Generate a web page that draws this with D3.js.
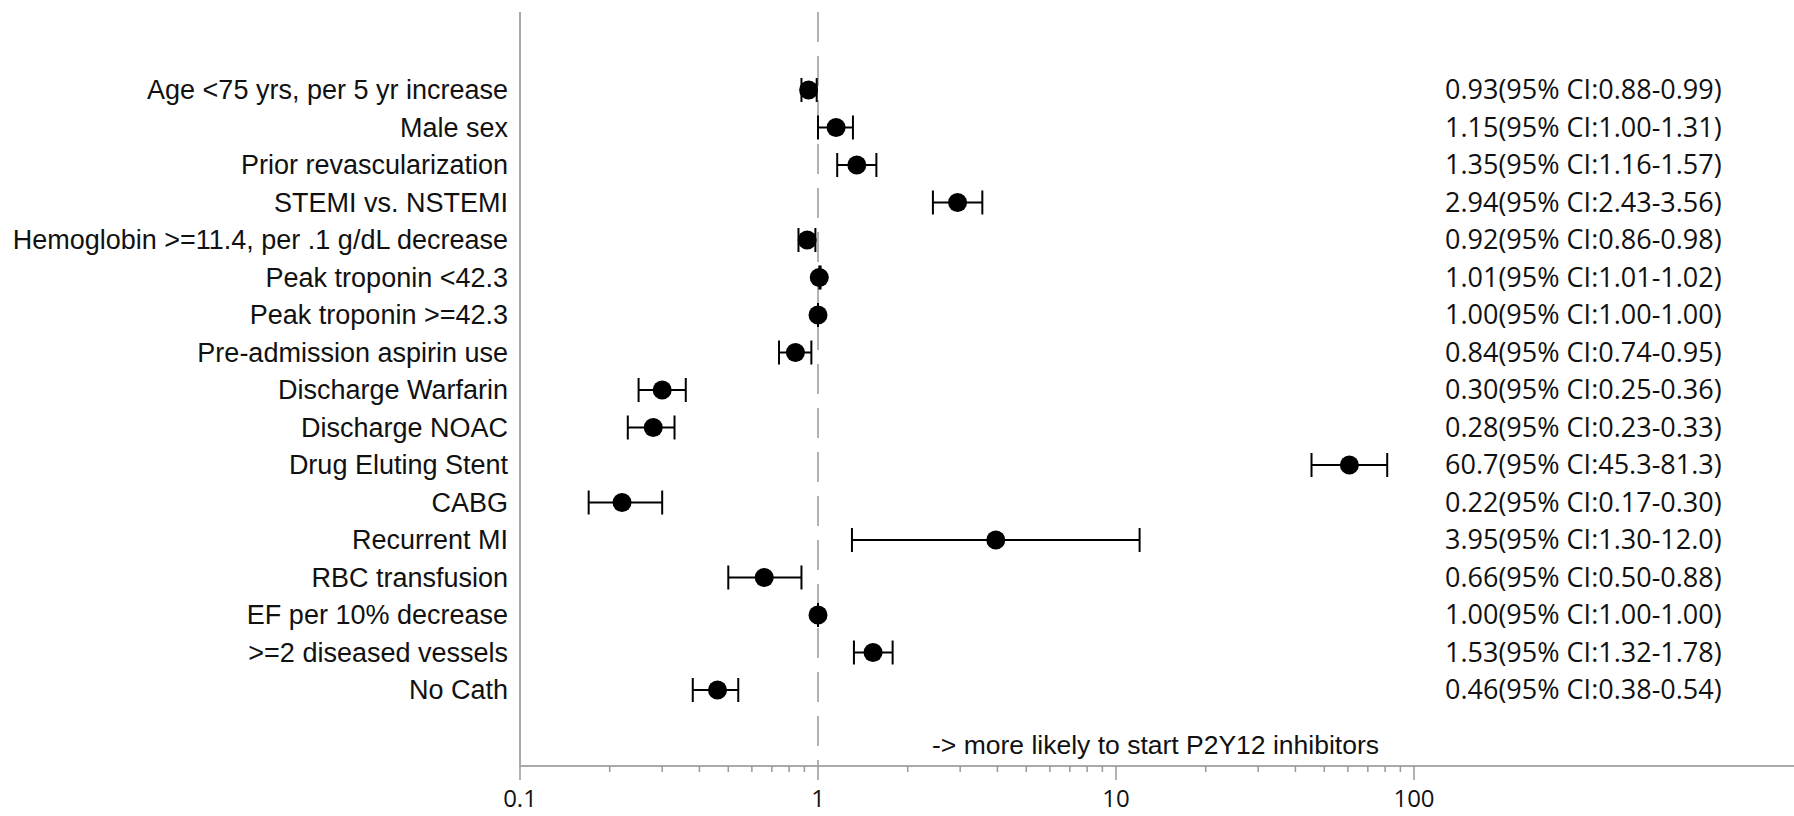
<!DOCTYPE html>
<html>
<head>
<meta charset="utf-8">
<script src="https://cdn.jsdelivr.net/npm/d3@7"></script>
<style>
    html, body { margin: 0; padding: 0; background: #fff; }
    #svgContainer { width: 1794px; height: 816px; }
</style>
</head>
<body>
<div id="svgContainer"></div>
<script>
// Predictors, odds ratios and 95% CI
const labels = [
    "Age <75 yrs, per 5 yr increase",
    "Male sex",
    "Prior revascularization",
    "STEMI vs. NSTEMI",
    "Hemoglobin >=11.4, per .1 g/dL decrease",
    "Peak troponin <42.3",
    "Peak troponin >=42.3",
    "Pre-admission aspirin use",
    "Discharge Warfarin",
    "Discharge NOAC",
    "Drug Eluting Stent",
    "CABG",
    "Recurrent MI",
    "RBC transfusion",
    "EF per 10% decrease",
    ">=2 diseased vessels",
    "No Cath"
];
const oddsRatio = [0.93, 1.15, 1.35, 2.94, 0.92, 1.01, 1.00, 0.84, 0.30, 0.28, 60.7, 0.22, 3.95, 0.66, 1.00, 1.53, 0.46];
const ciLow = [0.88, 1.00, 1.16, 2.43, 0.86, 1.01, 1.00, 0.74, 0.25, 0.23, 45.3, 0.17, 1.30, 0.50, 1.00, 1.32, 0.38];
const ciHigh = [0.99, 1.31, 1.57, 3.56, 0.98, 1.02, 1.00, 0.95, 0.36, 0.33, 81.3, 0.30, 12.0, 0.88, 1.00, 1.78, 0.54];
const ciText = [
    "0.93(95% CI:0.88-0.99)",
    "1.15(95% CI:1.00-1.31)",
    "1.35(95% CI:1.16-1.57)",
    "2.94(95% CI:2.43-3.56)",
    "0.92(95% CI:0.86-0.98)",
    "1.01(95% CI:1.01-1.02)",
    "1.00(95% CI:1.00-1.00)",
    "0.84(95% CI:0.74-0.95)",
    "0.30(95% CI:0.25-0.36)",
    "0.28(95% CI:0.23-0.33)",
    "60.7(95% CI:45.3-81.3)",
    "0.22(95% CI:0.17-0.30)",
    "3.95(95% CI:1.30-12.0)",
    "0.66(95% CI:0.50-0.88)",
    "1.00(95% CI:1.00-1.00)",
    "1.53(95% CI:1.32-1.78)",
    "0.46(95% CI:0.38-0.54)"
];
const majorTicks = [0.1, 1, 10, 100];
const minorTicks = [0.2, 0.3, 0.4, 0.5, 0.6, 0.7, 0.8, 0.9, 2, 3, 4, 5, 6, 7, 8, 9, 20, 30, 40, 50, 60, 70, 80, 90];
const note = "-> more likely to start P2Y12 inhibitors";

const rows = labels.map((d, i) => ({
    label: d, or: oddsRatio[i], lo: ciLow[i], hi: ciHigh[i], text: ciText[i]
}));

const svgDiv = document.getElementById("svgContainer");
const width = 1794;
const height = 816;

const svg = d3.select(svgDiv).append("svg")
    .attr("width", width)
    .attr("height", height);

const axisLeftX = 520;
const axisY = 766;
const x = d3.scaleLog().domain([0.1, 1]).range([axisLeftX, 818]);
const y = d3.scalePoint().domain(labels).range([90, 690]);

const labelFont = "'Liberation Sans', Arial, sans-serif";
const textFont = "'Open Sans', 'Liberation Sans', sans-serif";

// left frame line
svg.append("line")
    .attr("x1", axisLeftX).attr("x2", axisLeftX)
    .attr("y1", 12).attr("y2", axisY)
    .attr("stroke", "#aaa")
    .attr("stroke-width", 2);

// reference line at 1
svg.append("line")
    .attr("x1", x(1)).attr("x2", x(1))
    .attr("y1", 12).attr("y2", axisY)
    .attr("stroke", "#999")
    .attr("stroke-width", 1.5)
    .attr("stroke-dasharray", "30,14");

// x axis
const axisG = svg.append("g");
axisG.append("line")
    .attr("x1", axisLeftX).attr("x2", width)
    .attr("y1", axisY).attr("y2", axisY)
    .attr("stroke", "#aaa")
    .attr("stroke-width", 2);

axisG.selectAll(".major")
    .data(majorTicks)
    .join("line")
    .attr("class", "major")
    .attr("x1", d => x(d)).attr("x2", d => x(d))
    .attr("y1", axisY).attr("y2", axisY + 14)
    .attr("stroke", "#999")
    .attr("stroke-width", 1.5);

axisG.selectAll(".minor")
    .data(minorTicks)
    .join("line")
    .attr("class", "minor")
    .attr("x1", d => x(d)).attr("x2", d => x(d))
    .attr("y1", axisY).attr("y2", axisY + 6)
    .attr("stroke", "#999")
    .attr("stroke-width", 1.5);

axisG.selectAll("text")
    .data(majorTicks)
    .join("text")
    .attr("x", d => x(d))
    .attr("y", 799)
    .attr("dy", "0.35em")
    .attr("text-anchor", "middle")
    .attr("font-family", textFont)
    .attr("font-size", 24)
    .attr("fill", "#111")
    .text(d => d3.format("~g")(d));

// annotation
svg.append("text")
    .attr("x", 932)
    .attr("y", 745)
    .attr("dy", "0.35em")
    .attr("font-family", labelFont)
    .attr("font-size", 26.5)
    .attr("fill", "#111")
    .text(note);

// row labels
svg.append("g")
    .selectAll("text")
    .data(rows)
    .join("text")
    .attr("x", 508)
    .attr("y", d => y(d.label))
    .attr("dy", "0.35em")
    .attr("text-anchor", "end")
    .attr("font-family", labelFont)
    .attr("font-size", 27)
    .attr("fill", "#111")
    .text(d => d.label);

// CI text
svg.append("g")
    .selectAll("text")
    .data(rows)
    .join("text")
    .attr("x", 1445)
    .attr("y", d => y(d.label))
    .attr("dy", "0.35em")
    .attr("font-family", textFont)
    .attr("font-size", 27)
    .attr("fill", "#111")
    .text(d => d.text);

// error bars
const bars = svg.append("g")
    .selectAll("g")
    .data(rows)
    .join("g")
    .attr("transform", d => `translate(0, ${y(d.label)})`);

const capH = 12;
bars.append("line")
    .attr("x1", d => x(d.lo)).attr("x2", d => x(d.hi))
    .attr("stroke", "#000").attr("stroke-width", 2);
bars.append("line")
    .attr("x1", d => x(d.lo)).attr("x2", d => x(d.lo))
    .attr("y1", -capH).attr("y2", capH)
    .attr("stroke", "#000").attr("stroke-width", 2);
bars.append("line")
    .attr("x1", d => x(d.hi)).attr("x2", d => x(d.hi))
    .attr("y1", -capH).attr("y2", capH)
    .attr("stroke", "#000").attr("stroke-width", 2);
bars.append("circle")
    .attr("cx", d => x(d.or))
    .attr("r", 9.5)
    .attr("fill", "#000");
</script>
</body>
</html>
